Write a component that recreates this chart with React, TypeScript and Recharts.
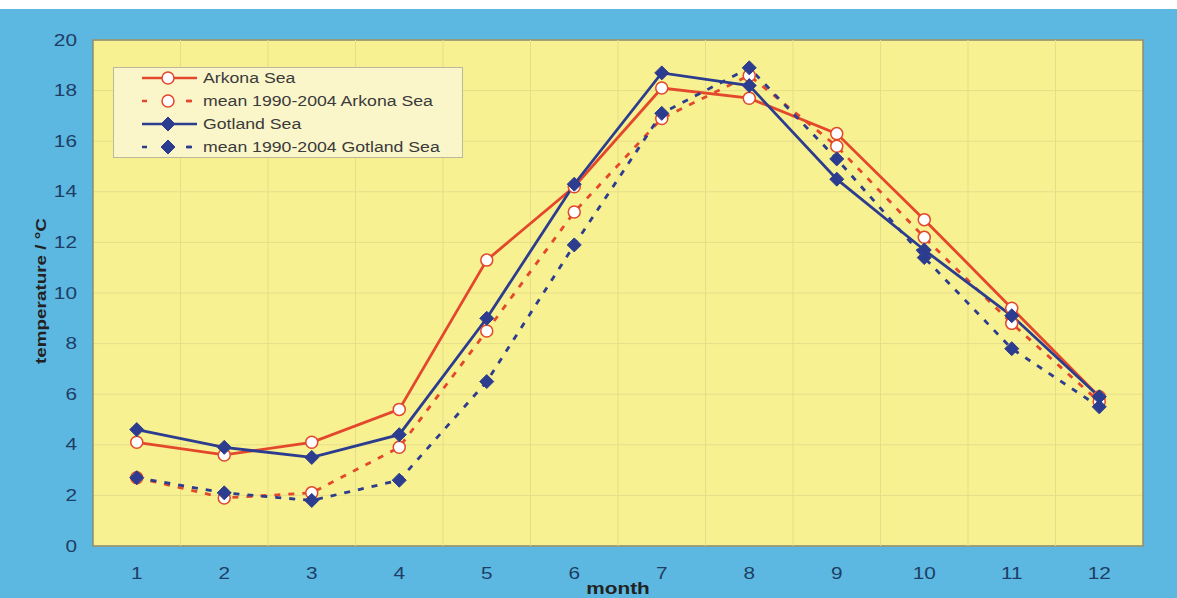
import React from "react";
import {
  LineChart,
  Line,
  XAxis,
  YAxis,
  CartesianGrid,
  ReferenceArea,
  ReferenceLine,
  Legend,
} from "recharts";

const months = [1, 2, 3, 4, 5, 6, 7, 8, 9, 10, 11, 12];
const arkona = [4.1, 3.6, 4.1, 5.4, 11.3, 14.2, 18.1, 17.7, 16.3, 12.9, 9.4, 5.9];
const arkonaMean = [2.7, 1.9, 2.1, 3.9, 8.5, 13.2, 16.9, 18.6, 15.8, 12.2, 8.8, 5.7];
const gotland = [4.6, 3.9, 3.5, 4.4, 9.0, 14.3, 18.7, 18.2, 14.5, 11.7, 9.1, 5.9];
const gotlandMean = [2.7, 2.1, 1.8, 2.6, 6.5, 11.9, 17.1, 18.9, 15.3, 11.4, 7.8, 5.5];
const yTicks = [0, 2, 4, 6, 8, 10, 12, 14, 16, 18, 20];

const RED = "#E3472C";
const NAVY = "#2C3C8E";
const GRID = "#E6DD8A";
const TICK = "#1E3E66";
// the original picture is stretched sideways, so text is widened to match
const STRETCH = 1.3;

const series = [
  { key: "arkona", name: "Arkona Sea", color: RED, dashed: false, shape: "circle" },
  { key: "arkonaMean", name: "mean 1990-2004 Arkona Sea", color: RED, dashed: true, shape: "circle" },
  { key: "gotland", name: "Gotland Sea", color: NAVY, dashed: false, shape: "diamond" },
  { key: "gotlandMean", name: "mean 1990-2004 Gotland Sea", color: NAVY, dashed: true, shape: "diamond" },
];

const data = months.map((m, i) => ({
  month: m,
  arkona: arkona[i],
  arkonaMean: arkonaMean[i],
  gotland: gotland[i],
  gotlandMean: gotlandMean[i],
}));

// grid lines sit between the months
const boundaries = months.slice(0, -1).map((m) => m + 0.5);

const marker = (shape: string, color: string, cx: number, cy: number, key?: any) => {
  if (shape === "circle") {
    return <circle key={key} cx={cx} cy={cy} r={6} fill="#fff" stroke={color} strokeWidth={1.5} />;
  }
  const s = 7;
  return (
    <polygon
      key={key}
      points={`${cx},${cy - s} ${cx + s},${cy} ${cx},${cy + s} ${cx - s},${cy}`}
      fill={color}
      stroke={color}
      strokeWidth={1}
    />
  );
};

const XTick = ({ x, y, payload }: any) => (
  <text
    transform={`translate(${x}, ${y}) scale(${STRETCH}, 1)`}
    textAnchor="middle"
    dy="0.71em"
    fontSize={16}
    fill={TICK}
  >
    {payload.value}
  </text>
);

const YTick = ({ x, y, payload }: any) => (
  <text
    transform={`translate(${x}, ${y}) scale(${STRETCH}, 1)`}
    textAnchor="end"
    dy="0.355em"
    fontSize={16}
    fill={TICK}
  >
    {payload.value}
  </text>
);

const LegendBox = () => (
  <div
    style={{
      width: 350,
      height: 91,
      background: "#FAF6CA",
      border: "1px solid #BDB89A",
      boxSizing: "border-box",
      fontFamily: "Arial, 'Liberation Sans', sans-serif",
      fontSize: 14.5,
      color: "#3a3a3a",
    }}
  >
    <svg width={348} height={89} style={{ display: "block" }}>
      {series.map((s, i) => {
        const y = 10 + i * 23;
        return (
          <g key={s.key}>
            <line
              x1={28}
              x2={s.dashed ? 78 : 83}
              y1={y}
              y2={y}
              stroke={s.color}
              strokeWidth={2.5}
              strokeDasharray={s.dashed ? "5 17" : undefined}
            />
            {s.dashed && <line x1={73} x2={78} y1={y} y2={y} stroke={s.color} strokeWidth={2.5} />}
            {marker(s.shape, s.color, 54, y)}
            <text
              transform={`translate(89, ${y}) scale(1.22, 1)`}
              dominantBaseline="central"
              fill="#3a3a3a"
            >
              {s.name}
            </text>
          </g>
        );
      })}
    </svg>
  </div>
);

const YLabel = () => {
  const x = 40;
  const y = 282;
  return (
    <text
      x={x}
      y={y}
      transform={`rotate(-90, ${x}, ${y})`}
      textAnchor="middle"
      dominantBaseline="central"
      fontWeight="bold"
      fontSize={15}
      textLength={146}
      lengthAdjust="spacingAndGlyphs"
      fill="#222"
    >
      temperature / °C
    </text>
  );
};

const XLabel = ({ viewBox }: any) => {
  const cx = viewBox.x + viewBox.width / 2;
  const y = viewBox.y + viewBox.height - 4;
  return (
    <text
      transform={`translate(${cx}, ${y}) scale(${STRETCH}, 1)`}
      textAnchor="middle"
      fontWeight="bold"
      fontSize={16}
      fill="#222"
    >
      month
    </text>
  );
};

export default function App() {
  return (
    <div
      style={{
        position: "absolute",
        left: 0,
        top: 0,
        width: 1177,
        height: 598,
        background: "#fff",
        fontFamily: "Arial, 'Liberation Sans', sans-serif",
      }}
    >
      <div style={{ position: "absolute", top: 9, left: 0, background: "#5CB8E1" }}>
        <LineChart
          width={1177}
          height={589}
          data={data}
          margin={{ top: 31, right: 34, left: 0, bottom: 0 }}
        >
          <CartesianGrid fill="#F8F191" stroke={GRID} vertical={false} />
          {boundaries.map((b) => (
            <ReferenceLine key={b} x={b} stroke={GRID} strokeWidth={1} />
          ))}
          <ReferenceArea
            x1={0.5}
            x2={12.5}
            y1={0}
            y2={20}
            fill="none"
            stroke="#8E8C6E"
            strokeWidth={1.5}
            ifOverflow="visible"
          />
          <XAxis
            dataKey="month"
            type="number"
            domain={[0.5, 12.5]}
            allowDataOverflow={true}
            ticks={months}
            height={52}
            axisLine={false}
            tickLine={false}
            tickSize={0}
            tickMargin={22}
            tick={<XTick />}
            label={<XLabel />}
          />
          <YAxis
            type="number"
            domain={[0, 20]}
            allowDataOverflow={true}
            ticks={yTicks}
            width={93}
            axisLine={false}
            tickLine={false}
            tickSize={0}
            tickMargin={16}
            tick={<YTick />}
            label={<YLabel />}
          />
          <Legend
            layout="horizontal"
            verticalAlign="middle"
            align="center"
            wrapperStyle={{ top: 58, left: 113, width: 350, height: 91 }}
            content={() => <LegendBox />}
          />
          {series.map((s) => (
            <Line
              key={s.key}
              dataKey={s.key}
              name={s.name}
              type="linear"
              stroke={s.color}
              strokeWidth={2.8}
              strokeDasharray={s.dashed ? "6 8" : undefined}
              isAnimationActive={false}
              dot={(p: any) => marker(s.shape, s.color, p.cx, p.cy, `${s.key}-${p.index}`)}
              activeDot={false}
            />
          ))}
        </LineChart>
      </div>
    </div>
  );
}
